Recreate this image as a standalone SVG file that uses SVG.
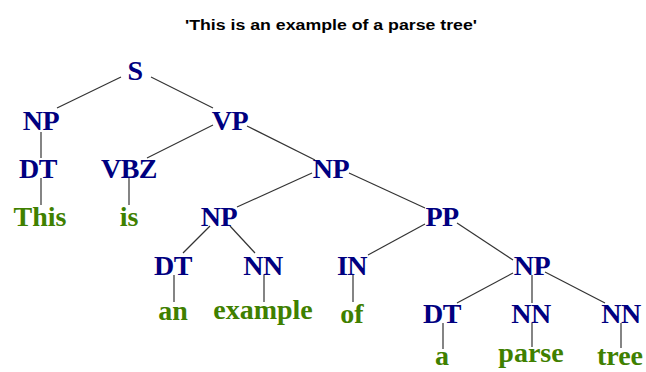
<svg xmlns="http://www.w3.org/2000/svg" width="646" height="372" viewBox="0 0 646 372">
<style>
.title{font-family:"Liberation Sans",Arial,sans-serif;font-weight:bold;font-size:14.5px;fill:#000;text-anchor:middle}
.tag{font-family:"Liberation Serif","Times New Roman",serif;font-weight:bold;font-size:28px;fill:#000080;text-anchor:middle;letter-spacing:-0.5px}
.word{font-family:"Liberation Serif","Times New Roman",serif;font-weight:bold;font-size:28px;fill:#3f8000;text-anchor:middle}
.edges line{stroke:#333;stroke-width:1.2}
</style>
<rect width="646" height="372" fill="#fff"/>
<text class="title" x="331" y="30" textLength="292" lengthAdjust="spacingAndGlyphs">'This is an example of a parse tree'</text>
<g id="connectors" class="edges">
<line x1="121" y1="77" x2="57" y2="108"/>
<line x1="151" y1="77" x2="213" y2="108"/>
<line x1="41" y1="132" x2="41" y2="158"/>
<line x1="41" y1="178" x2="41" y2="205"/>
<line x1="213" y1="125" x2="147" y2="158"/>
<line x1="129" y1="178" x2="129" y2="205"/>
<line x1="247" y1="126" x2="315" y2="160"/>
<line x1="312" y1="173" x2="237" y2="207"/>
<line x1="349" y1="173" x2="425" y2="208"/>
<line x1="210" y1="226" x2="183" y2="253"/>
<line x1="230" y1="226" x2="255" y2="253"/>
<line x1="174" y1="275" x2="174" y2="302"/>
<line x1="264" y1="275" x2="264" y2="302"/>
<line x1="425" y1="224" x2="368" y2="255"/>
<line x1="457" y1="223" x2="513" y2="260"/>
<line x1="353" y1="275" x2="353" y2="302"/>
<line x1="513" y1="273" x2="457" y2="303"/>
<line x1="532" y1="275" x2="532" y2="303"/>
<line x1="545" y1="272" x2="605" y2="303"/>
<line x1="443" y1="323" x2="443" y2="349"/>
<line x1="532" y1="323" x2="532" y2="347"/>
<line x1="621" y1="323" x2="621" y2="348"/>
</g>
<g id="n-S"><text class="tag" x="135" y="80">S</text></g>
<g id="n-NP1"><text class="tag" x="41" y="130">NP</text></g>
<g id="n-VP"><text class="tag" x="230" y="130">VP</text></g>
<g id="n-DT1"><text class="tag" x="38" y="178">DT</text></g>
<g id="n-VBZ"><text class="tag" x="129" y="178">VBZ</text></g>
<g id="n-NP2"><text class="tag" x="331" y="178">NP</text></g>
<g id="w-This"><text class="word" x="40" y="226">This</text></g>
<g id="w-is"><text class="word" x="129" y="226">is</text></g>
<g id="n-NP3"><text class="tag" x="219" y="226">NP</text></g>
<g id="n-PP"><text class="tag" x="442" y="226">PP</text></g>
<g id="n-DT2"><text class="tag" x="173" y="275">DT</text></g>
<g id="n-NN1"><text class="tag" x="263" y="275">NN</text></g>
<g id="n-IN"><text class="tag" x="352" y="275">IN</text></g>
<g id="n-NP4"><text class="tag" x="532" y="275">NP</text></g>
<g id="w-an"><text class="word" x="173" y="320">an</text></g>
<g id="w-example"><text class="word" x="263" y="319">example</text></g>
<g id="w-of"><text class="word" x="352" y="323">of</text></g>
<g id="n-DT3"><text class="tag" x="442" y="323">DT</text></g>
<g id="n-NN2"><text class="tag" x="531" y="323">NN</text></g>
<g id="n-NN3"><text class="tag" x="621" y="323">NN</text></g>
<g id="w-a"><text class="word" x="442" y="365">a</text></g>
<g id="w-parse"><text class="word" x="531" y="362">parse</text></g>
<g id="w-tree"><text class="word" x="620" y="365">tree</text></g>
</svg>
